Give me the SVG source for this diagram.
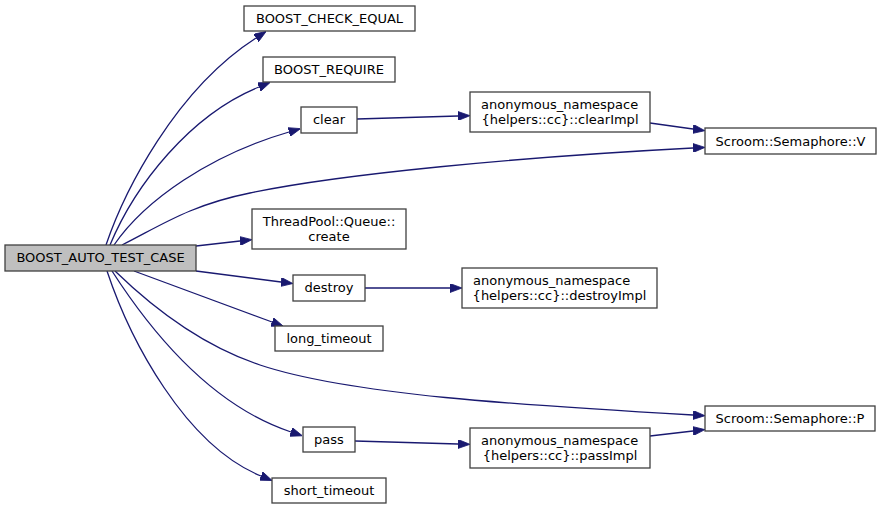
<svg xmlns="http://www.w3.org/2000/svg" width="881" height="509" viewBox="0 0 881 509">
<style>
.n rect{fill:#ffffff;stroke:#404040;stroke-width:1.3}
.n.root rect{fill:#bfbfbf}
text{font-family:"DejaVu Sans","Liberation Sans",sans-serif;font-size:13px;fill:#000}
.m{text-anchor:middle}
.s{text-anchor:start}
#edges path{fill:none;stroke:#191970;stroke-width:1.3;marker-end:url(#arr)}
</style>
<defs>
<marker id="arr" viewBox="0 0 12 9" refX="0" refY="4.5" markerWidth="12" markerHeight="9" markerUnits="userSpaceOnUse" orient="auto">
<path d="M0,0 L12,4.5 L0,9 z" fill="#191970" stroke="#191970" stroke-width="0.8"/>
</marker>
</defs>
<rect width="881" height="509" fill="#ffffff"/>
<g id="edges">
<path d="M106,245 C124,192 175,90 256,38"/>
<path d="M110,245 C135,185 190,115 259,87"/>
<path d="M114,245 C145,200 210,155 289,132"/>
<path d="M122,245 C160,226 190,205 250,193 C340,174 520,157 693,148"/>
<path d="M196,246 L240,241"/>
<path d="M196,271 L281,282"/>
<path d="M134,271 L272,322"/>
<path d="M115,271 C150,305 200,345 260,365 C350,395 520,405 693,415"/>
<path d="M112,271 C150,330 210,405 291,432"/>
<path d="M107,271 C130,340 185,445 261,476"/>
<path d="M357,119 L458,116"/>
<path d="M650,123 L693,129"/>
<path d="M365,288 L450,288"/>
<path d="M355,441 L458,444"/>
<path d="M650,436 L693,431"/>
</g>
<g id="n_root" class="n root"><rect x="5" y="245" width="191" height="26"/><text class="m" x="100.5" y="262">BOOST_AUTO_TEST_CASE</text></g>
<g id="n_check" class="n"><rect x="244" y="6" width="171" height="25"/><text class="m" x="329.5" y="22.5">BOOST_CHECK_EQUAL</text></g>
<g id="n_require" class="n"><rect x="263" y="57" width="132" height="25"/><text class="m" x="329" y="73.5">BOOST_REQUIRE</text></g>
<g id="n_clear" class="n"><rect x="301" y="107" width="56" height="26"/><text class="m" x="329" y="124">clear</text></g>
<g id="n_create" class="n"><rect x="252" y="209" width="154" height="40"/><text class="m" x="329" y="225.5">ThreadPool::Queue::</text><text class="m" x="329" y="240.5">create</text></g>
<g id="n_clearImpl" class="n"><rect x="470" y="92" width="180" height="40"/><text class="s" x="481" y="108.5">anonymous_namespace</text><text class="m" x="560" y="123.5">{helpers::cc}::clearImpl</text></g>
<g id="n_V" class="n"><rect x="705" y="128" width="171" height="26"/><text class="m" x="790.5" y="145.5">Scroom::Semaphore::V</text></g>
<g id="n_destroy" class="n"><rect x="293" y="275" width="72" height="26"/><text class="m" x="329" y="292">destroy</text></g>
<g id="n_destroyImpl" class="n"><rect x="462" y="268" width="195" height="40"/><text class="s" x="473" y="284.5">anonymous_namespace</text><text class="m" x="559.5" y="299.5">{helpers::cc}::destroyImpl</text></g>
<g id="n_long" class="n"><rect x="275" y="326" width="108" height="25"/><text class="m" x="329" y="342.5">long_timeout</text></g>
<g id="n_P" class="n"><rect x="705" y="406" width="170" height="25"/><text class="m" x="790" y="422.5">Scroom::Semaphore::P</text></g>
<g id="n_pass" class="n"><rect x="303" y="427" width="52" height="25"/><text class="m" x="329" y="443.5">pass</text></g>
<g id="n_passImpl" class="n"><rect x="470" y="428" width="180" height="40"/><text class="s" x="481" y="444.5">anonymous_namespace</text><text class="m" x="560" y="459.5">{helpers::cc}::passImpl</text></g>
<g id="n_short" class="n"><rect x="272" y="478" width="114" height="25"/><text class="m" x="329" y="494.5">short_timeout</text></g>
</svg>
